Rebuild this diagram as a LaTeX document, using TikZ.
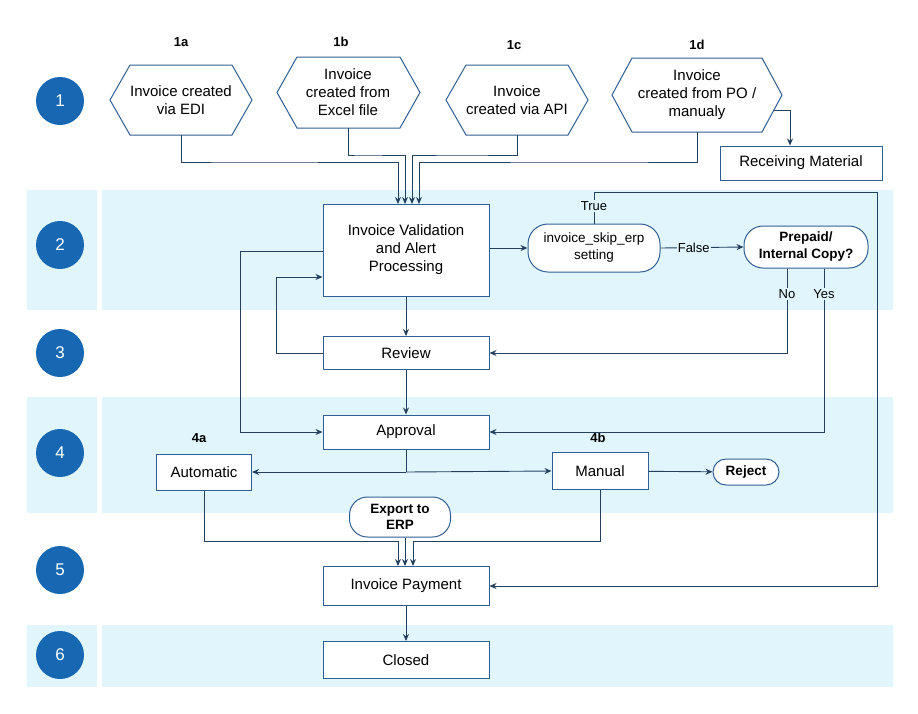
\documentclass[tikz,border=0pt]{standalone}
\usepackage{fontspec}
\setmainfont{Liberation Sans}
\usetikzlibrary{arrows.meta}
\definecolor{band}{HTML}{E0F6FC}
\definecolor{circ}{HTML}{1767B3}
\definecolor{edge}{HTML}{2F5E93}
\definecolor{wire}{HTML}{23405E}
\begin{document}
\begin{tikzpicture}[x=1pt,y=-1pt,
  font=\fontsize{15}{18}\selectfont,
  box/.style={draw=edge,line width=1pt,fill=white,align=center,inner sep=2pt},
  pill/.style={draw=edge,line width=1pt,fill=white,align=center,rounded corners=13pt,inner sep=2pt},
  hexa/.style={align=center,inner sep=0pt},
  num/.style={circle,fill=circ,text=white,minimum size=48pt,inner sep=0pt,font=\fontsize{17}{20}\selectfont},
  lab/.style={font=\bfseries\fontsize{13}{15}\selectfont,inner sep=1pt},
  small/.style={font=\fontsize{13}{15}\selectfont,inner sep=1pt},
  ar/.style={draw=wire,line width=0.9pt,-{Stealth[length=7pt,width=6pt]}},
  ln/.style={draw=wire,line width=0.9pt}]
\useasboundingbox (0,0) rectangle (918,713);
% bands
\foreach \a/\b in {190/310,397/513,625/687}{
  \fill[band] (27,\a) rectangle (97,\b);
  \fill[band] (102,\a) rectangle (893,\b);}
% circles
\foreach \y/\t in {101/1,245/2,353/3,453/4,570/5,655/6}
  \node[num] (c\t) at (60,\y) {\t};
% hexagons
\newcommand\hexg[5]{% name, x1,y1,x2,y2
  \draw[edge,line width=1pt,fill=white] (#2,{(#3+#5)/2}) -- (#2+20,#3) -- (#4-20,#3) -- (#4,{(#3+#5)/2}) -- (#4-20,#5) -- (#2+20,#5) -- cycle;
  \coordinate (#1s) at ({(#2+#4)/2},#5);}
\hexg{a}{110}{65}{252}{135}
\hexg{b}{277}{57}{420}{128}
\hexg{c}{446}{65}{588}{135}
\hexg{d}{612}{58}{782}{132}
\node[hexa] (ha) at (181,100) {Invoice created\\via EDI};
\node[hexa] (hb) at (348,92) {Invoice\\created from\\Excel file};
\node[hexa] (hc) at (517,100) {Invoice\\created via API};
\node[hexa] (hd) at (697,95) {Invoice\\created from PO /\\manualy};
\node[lab] (la) at (181,42) {1a};
\node[lab] (lb) at (341,42) {1b};
\node[lab] (lc) at (514,45) {1c};
\node[lab] (ld) at (697,45) {1d};
\coordinate (dr) at (774,110);
% boxes
\node[box,minimum width=162pt,minimum height=34pt] (recv) at (801,163) {Receiving Material};
\node[box,minimum width=166pt,minimum height=92pt] (val) at (406,250) {Invoice Validation\\and Alert\\Processing};
\node[pill,minimum width=132pt,minimum height=48pt,rounded corners=20pt,font=\fontsize{13.5}{17}\selectfont] (skip) at (594,248) {invoice\_skip\_erp\\setting};
\node[pill,minimum width=124pt,minimum height=42pt,rounded corners=19pt,font=\bfseries\fontsize{13.5}{17}\selectfont] (pre) at (806,247) {Prepaid/\\Internal Copy?};
\node[box,minimum width=166pt,minimum height=33pt] (rev) at (406,353) {Review};
\node[box,minimum width=166pt,minimum height=34pt] (app) at (406,432) {Approval};
\node[box,minimum width=95pt,minimum height=36pt] (auto) at (204,472) {Automatic};
\node[box,minimum width=96pt,minimum height=37pt] (man) at (600,471) {Manual};
\node[lab] (l4a) at (199,438) {4a};
\node[lab] (l4b) at (598,438) {4b};
\node[pill,minimum width=66pt,minimum height=26pt,font=\bfseries\fontsize{13.5}{16}\selectfont] (rej) at (746,472) {Reject};
\node[pill,minimum width=101pt,minimum height=40pt,rounded corners=18pt,font=\bfseries\fontsize{13.5}{16}\selectfont] (erp) at (400,517) {Export to\\ERP};
\node[box,minimum width=166pt,minimum height=39pt] (pay) at (406,586) {Invoice Payment};
\node[box,minimum width=166pt,minimum height=37pt] (clo) at (406,660) {Closed};
% connectors top
\draw[ar] (as) |- (240,162) -| (398,204);
\draw[ar] (bs) |- (360,155) -| (405,204);
\draw[ar] (cs) |- (460,155) -| (412,204);
\draw[ar] (ds) |- (600,162) -| (419,204);
\draw[ar] (dr) -| (recv.north -| 790,0);
% row 2
\draw[ar] (val.east |- skip) -- (skip.west);
\draw[ar] (skip.east) -- node[fill=band,small,inner sep=1pt,pos=0.4] (fl) {False} (pre.west);
\draw[ar] (skip.north) |- (877,192) |- (pay.east);
\node[small,fill=band] (tr) at (594,206) {True};
\node[small] (no) at (787,294) {No};
\node[small] (yes) at (824,294) {Yes};
\draw[ln] (pre.south -| 787,0) -- (no.north);
\draw[ln] (pre.south -| 824,0) -- (yes.north);
\draw[ar] (no.south) |- (rev.east);
\draw[ar] (yes.south) |- (app.east);
\draw[ar] (val) -- (rev);
\draw[ar] (rev.west) -| (276,277) -- (val.west |- 0,277);
\draw[ar] (val.west |- 0,251) -| (240,432) -- (app.west);
\draw[ar] (rev) -- (app);
\draw[ln] (app.south) -- (406,472);
\draw[ar] (406,472) -- (auto.east);
\draw[ar] (406,472) -- (man.west);
\draw[ar] (man) -- (rej);
\draw[ar] (auto.south) |- (398,541) -- (pay.north -| 398,0);
\draw[ar] (man.south) |- (413,541) -- (pay.north -| 413,0);
\draw[ar] (erp.south -| 405,0) -- (pay.north -| 405,0);
\draw[ar] (pay) -- (clo);
\end{tikzpicture}
\end{document}
